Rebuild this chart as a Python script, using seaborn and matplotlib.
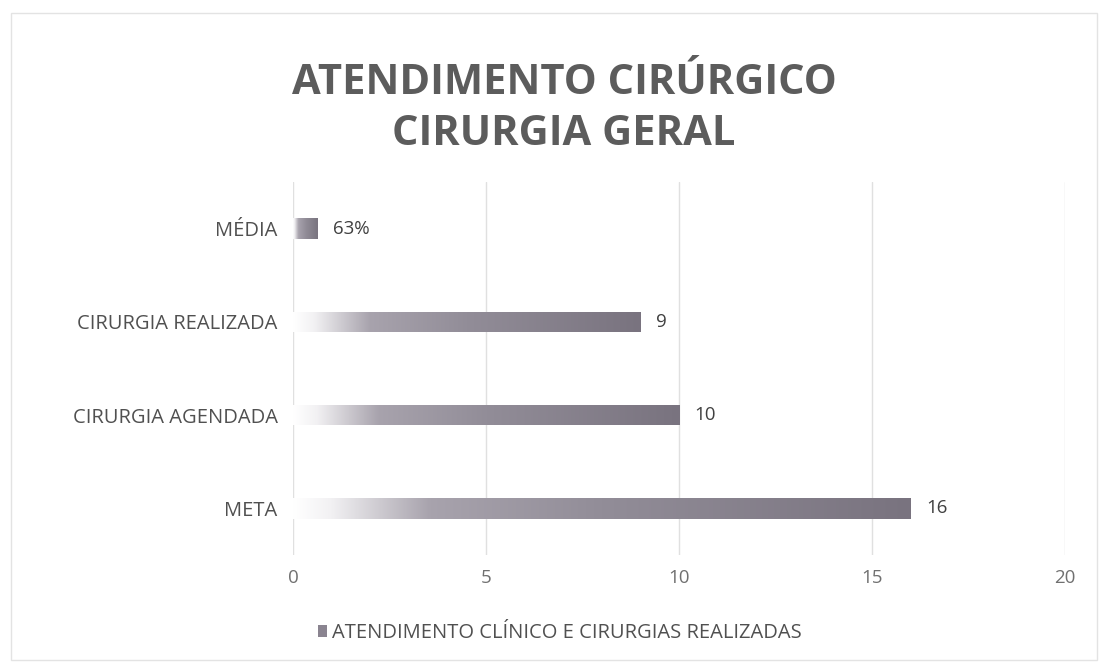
import numpy as np
import pandas as pd
import matplotlib
matplotlib.use("Agg")
import matplotlib.pyplot as plt
import seaborn as sns
from matplotlib.colors import LinearSegmentedColormap

categories = ["MÉDIA", "CIRURGIA REALIZADA", "CIRURGIA AGENDADA", "META"]
values = [0.63, 9, 10, 16]
value_labels = ["63%", "9", "10", "16"]
x_ticks = [0, 5, 10, 15, 20]
title = "ATENDIMENTO CIRÚRGICO\nCIRURGIA GERAL"
legend_label = "ATENDIMENTO CLÍNICO E CIRURGIAS REALIZADAS"

sns.set_theme(style="white")
plt.rcParams["font.family"] = ["Open Sans", "DejaVu Sans"]

df = pd.DataFrame({"cat": categories, "val": values})

fig = plt.figure(figsize=(11.08, 6.70), dpi=100)
ax = fig.add_axes([0.2644, 0.1716, 0.6968, 0.5568])

sns.barplot(data=df, y="cat", x="val", orient="h", ax=ax, width=0.22,
            color="#7d7782", edgecolor="none", zorder=3)

cmap = LinearSegmentedColormap.from_list(
    "grad", [(0.0, "#ffffff"), (0.06, "#f2f1f3"), (0.22, "#a8a3ad"),
             (0.5, "#928d98"), (1.0, "#79737f")])
grad = np.linspace(0, 1, 256).reshape(1, -1)
for p in ax.patches:
    x0, y0 = p.get_x(), p.get_y()
    w, h = p.get_width(), p.get_height()
    p.set_facecolor("none")
    im = ax.imshow(grad, cmap=cmap, aspect="auto", extent=[x0, x0 + w, y0 + h, y0],
                   zorder=3, interpolation="bicubic")
    im.set_clip_path(p)

for i, (v, lab) in enumerate(zip(values, value_labels)):
    ax.annotate(lab, xy=(v, i), xytext=(11, 0), textcoords="offset points",
                va="center", ha="left", fontsize=13.5, color="#404040")

ax.set_xlim(0, 20)
ax.set_ylim(3.5, -0.5)
ax.set_xticks(x_ticks)
ax.set_xticklabels([str(t) for t in x_ticks])
ax.xaxis.grid(True, color="#e0e0e0", linewidth=1.0, zorder=0)
ax.yaxis.grid(False)
for s in ax.spines.values():
    s.set_visible(False)
ax.tick_params(axis="x", colors="#707070", labelsize=13.5, length=0, pad=10)
ax.tick_params(axis="y", colors="#505050", labelsize=14.5, length=0, pad=11)
ax.set_xlabel("")
ax.set_ylabel("")

fig.text(0.509, 0.838, title, ha="center", va="center", fontsize=30,
         fontweight="bold", color="#5c5c5c", linespacing=1.32)

# legend
ax.legend(handles=[matplotlib.patches.Patch(facecolor="#8a8490", edgecolor="none")],
          labels=[legend_label], loc="center", bbox_to_anchor=(0.505, 0.055),
          bbox_transform=fig.transFigure, frameon=False, fontsize=14.5,
          handlelength=0.45, handleheight=0.6, handletextpad=0.25,
          labelcolor="#505050")

fig.patches.append(matplotlib.patches.Rectangle((0.01, 0.015), 0.98, 0.965, transform=fig.transFigure,
                                               fill=False, edgecolor="#e3e3e3", linewidth=1.0))

fig.savefig("out.png", dpi=100)
